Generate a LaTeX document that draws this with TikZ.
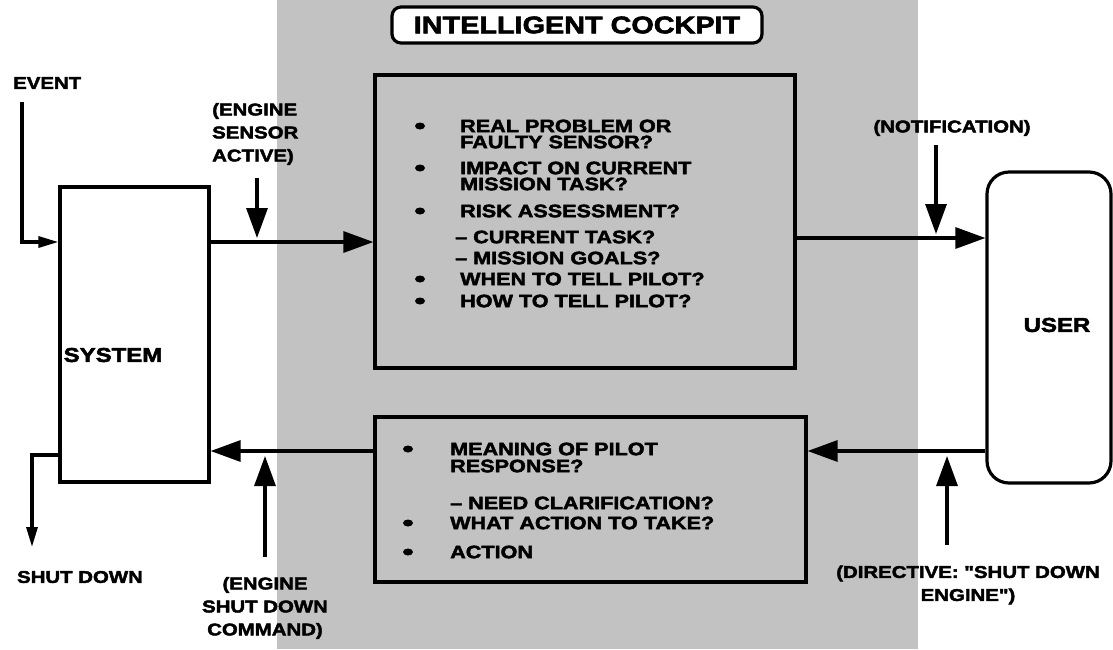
\documentclass[tikz,border=0pt]{standalone}
\usepackage{fontspec}
\setmainfont{Liberation Sans}
\newfontfamily\labfont{Liberation Sans}[UprightFont={* Bold},FakeStretch=1.2,FakeBold=2.5]
\usetikzlibrary{arrows.meta,calc,shapes.geometric}
\definecolor{bandgray}{gray}{0.76}
\tikzset{
  conn/.style={line width=3.2pt},
  bigarr/.style={-{Triangle[length=30pt,width=21pt]}},
  smallarr/.style={-{Triangle[length=20pt,width=11pt]}},
  box/.style={draw,line width=3.2pt,inner sep=0pt},
  lab/.style={font=\labfont\fontsize{17}{23}\selectfont,inner sep=0pt},
  itm/.style={font=\labfont\fontsize{18}{15}\selectfont,inner sep=0pt,anchor=west},
  bul/.style={ellipse,fill=black,inner sep=0pt,minimum width=10pt,minimum height=7pt},
  big/.style={font=\labfont\fontsize{20}{24}\selectfont,inner sep=0pt},
}
\begin{document}
\begin{tikzpicture}[x=1pt,y=-1pt]
\useasboundingbox (0,0) rectangle (1113,649);
\fill[white] (0,0) rectangle (1113,649);
% shaded cockpit band
\fill[bandgray] (277,0) rectangle (918,649);

% title
\node[box,fill=white,rounded corners=9pt,minimum height=36pt,minimum width=370pt,
      font=\labfont\fontsize{24}{26}\selectfont] (title) at (577,25) {INTELLIGENT COCKPIT};

% main boxes
\node[box,fill=white,minimum width=149pt,minimum height=295pt] (sys) at (134.5,334.5) {};
\node[big] (systxt) at (113,355) {SYSTEM};
\node[box,fill=bandgray,minimum width=420pt,minimum height=293pt] (top) at (585,221.5) {};
\node[box,fill=bandgray,minimum width=431pt,minimum height=165pt] (bot) at (590.5,499.5) {};
\node[box,fill=white,rounded corners=22pt,minimum width=124pt,minimum height=311pt] (user) at (1049,327.5) {};
\node[big] (usertxt) at (1057,325) {USER};

% top box content
\node[bul] (b1) at (420,126) {};
\node[itm] (t1) at (460,126) {REAL PROBLEM OR};
\node[itm] (t1b) at (460,142) {FAULTY SENSOR?};
\node[bul] (b2) at (420,168) {};
\node[itm] (t2) at (460,168) {IMPACT ON CURRENT};
\node[itm] (t2b) at (460,184) {MISSION TASK?};
\node[bul] (b3) at (420,211) {};
\node[itm] (t3) at (460,211) {RISK ASSESSMENT?};
\node[itm] (t4) at (455,237) {– CURRENT TASK?};
\node[itm] (t5) at (455,258) {– MISSION GOALS?};
\node[bul] (b6) at (420,279) {};
\node[itm] (t6) at (460,279) {WHEN TO TELL PILOT?};
\node[bul] (b7) at (420,301) {};
\node[itm] (t7) at (460,301) {HOW TO TELL PILOT?};

% bottom box content
\node[bul] (c1) at (408,449) {};
\node[itm] (u1) at (450,449) {MEANING OF PILOT};
\node[itm] (u1b) at (450,466) {RESPONSE?};
\node[itm] (u2) at (450,503) {– NEED CLARIFICATION?};
\node[bul] (c3) at (408,523) {};
\node[itm] (u3) at (450,523) {WHAT ACTION TO TAKE?};
\node[bul] (c4) at (408,552) {};
\node[itm] (u4) at (450,552) {ACTION};

% labels
\node[lab,anchor=west] (event) at (13,83) {EVENT};
\node[lab,anchor=west,align=left] (esa) at (212,134) {(ENGINE\\SENSOR\\ACTIVE)};
\node[lab] (notif) at (952,128) {(NOTIFICATION)};
\node[lab] (sdown) at (80,577) {SHUT DOWN};
\node[lab,align=center] (esdc) at (265,608) {(ENGINE\\SHUT DOWN\\COMMAND)};
\node[lab,align=center] (dir) at (968,585) {(DIRECTIVE: "SHUT DOWN\\ENGINE")};

% connector levels
\coordinate (yA) at (0,242);
\coordinate (yB) at (0,238);
\coordinate (yC) at (0,451);
\coordinate (yS) at (0,455);

% main flow
\draw[conn,bigarr] (sys.east |- yA) -- (top.west |- yA);
\draw[conn,bigarr] (top.east |- yB) -- (user.west |- yB);
\draw[conn,bigarr] (user.west |- yC) -- (bot.east |- yC);
\draw[conn,bigarr] (bot.west |- yC) -- (sys.east |- yC);

% event in, shut down out
\coordinate (ev0) at (22,102);
\draw[conn,smallarr] (ev0) |- (sys.west |- yA);
\coordinate (sdEnd) at (32,547);
\draw[conn,smallarr] (sys.west |- yS) -| (sdEnd);

% label arrows
\coordinate (esaS) at (257,178);
\coordinate (esaE) at (257,238);
\draw[conn,bigarr] (esaS) -- (esaE);
\coordinate (notS) at (936,145);
\coordinate (notE) at (936,234);
\draw[conn,bigarr] (notS) -- (notE);
\coordinate (cmdS) at (265,557);
\coordinate (cmdE) at (265,456);
\draw[conn,bigarr] (cmdS) -- (cmdE);
\coordinate (dirS) at (947,545);
\coordinate (dirE) at (947,456);
\draw[conn,bigarr] (dirS) -- (dirE);
\end{tikzpicture}
\end{document}
